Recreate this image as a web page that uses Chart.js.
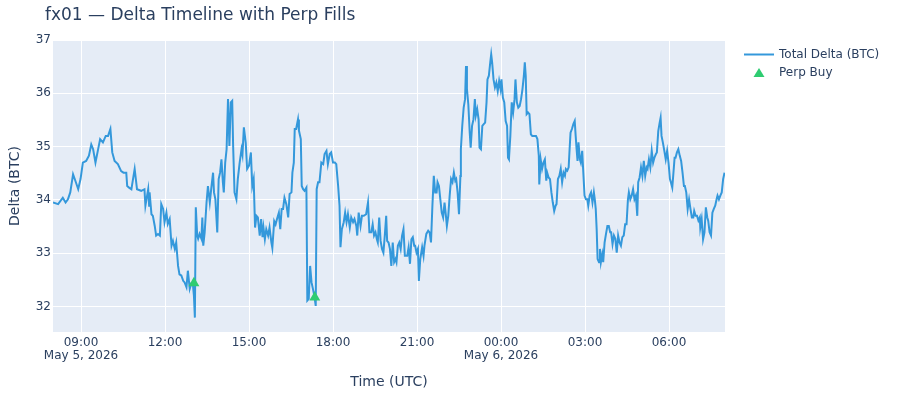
<!DOCTYPE html>
<html>
<head>
<meta charset="utf-8">
<script src="https://cdn.jsdelivr.net/npm/chart.js@4.4.1/dist/chart.umd.min.js"></script>
<style>
  html, body { margin: 0; padding: 0; background: #fff; }
  #wrap { width: 900px; height: 400px; position: relative; }
</style>
</head>
<body>
<div id="wrap"><canvas id="chart" width="900" height="400"></canvas></div>
<script>
// minutes since May 5, 2026 08:00 UTC
const timeMin = [
  0, 11, 21, 27, 32, 37, 43, 49, 54, 59, 64, 71, 77, 82, 86, 91, 96, 101, 107, 113,
  118, 123, 127, 132, 139, 146, 151, 157, 159, 163, 168, 175, 180, 189, 196, 198, 204, 206, 207, 211,
  214, 218, 221, 225, 229, 232, 236, 239, 243, 246, 250, 254, 257, 261, 264, 268, 271, 275, 279, 282,
  286, 289, 293, 296, 300, 302, 304, 306, 309, 311, 314, 318, 320, 322, 325, 329, 332, 336, 339, 343,
  345, 348, 352, 355, 358, 361, 364, 366, 369, 372, 375, 378, 381, 384, 386, 389, 393, 396, 400, 404,
  406, 409, 413, 416, 420, 424, 427, 430, 433, 436, 439, 443, 446, 449, 451, 454, 457, 461, 464, 468,
  470, 474, 477, 480, 484, 487, 490, 493, 496, 500, 504, 507, 511, 513, 516, 518, 521, 525, 527, 531,
  533, 536, 539, 543, 545, 548, 551, 554, 557, 560, 563, 565, 568, 571, 575, 579, 582, 586, 589, 593,
  596, 600, 604, 607, 611, 614, 616, 619, 623, 626, 629, 632, 636, 639, 643, 646, 650, 652, 655, 659,
  662, 666, 671, 675, 678, 682, 685, 688, 691, 694, 696, 699, 702, 705, 708, 711, 714, 716, 719, 722,
  725, 728, 731, 734, 736, 739, 742, 745, 748, 751, 754, 756, 759, 762, 765, 768, 771, 774, 776, 779,
  782, 784, 787, 791, 794, 796, 800, 804, 807, 810, 813, 816, 819, 822, 824, 827, 830, 833, 836, 839,
  842, 844, 847, 850, 853, 856, 859, 862, 864, 867, 870, 873, 874, 877, 880, 883, 885, 887, 890, 893,
  895, 898, 901, 904, 906, 909, 912, 914, 917, 920, 923, 926, 929, 931, 934, 937, 939, 941, 944, 947,
  950, 953, 956, 959, 961, 964, 967, 970, 973, 975, 977, 980, 983, 986, 989, 991, 994, 997, 1000, 1003,
  1006, 1009, 1011, 1013, 1015, 1018, 1021, 1024, 1027, 1031, 1035, 1038, 1041, 1042, 1045, 1048, 1051, 1054, 1057, 1059,
  1062, 1065, 1068, 1071, 1074, 1077, 1079, 1082, 1085, 1088, 1091, 1094, 1097, 1099, 1102, 1105, 1107, 1109, 1112, 1115,
  1118, 1120, 1122, 1124, 1126, 1129, 1131, 1134, 1136, 1139, 1142, 1145, 1147, 1150, 1153, 1156, 1159, 1161, 1163, 1165,
  1167, 1170, 1172, 1174, 1177, 1179, 1182, 1185, 1188, 1191, 1194, 1196, 1199, 1202, 1205, 1208, 1211, 1214, 1217, 1220,
  1223, 1226, 1229, 1232, 1234, 1237, 1240, 1243, 1246, 1249, 1252, 1254, 1257, 1260, 1263, 1266, 1269, 1272, 1274, 1277,
  1280, 1283, 1286, 1289, 1292, 1294, 1297, 1300, 1302, 1304, 1307, 1310, 1313, 1316, 1319, 1322, 1324, 1327, 1329, 1332,
  1334, 1337, 1340, 1343, 1346, 1349, 1352, 1354, 1357, 1360, 1363, 1366, 1369, 1372, 1374, 1377, 1380, 1383, 1386, 1387,
  1390, 1393, 1396, 1399, 1402, 1404, 1407, 1410, 1413, 1416, 1419, 1422, 1424, 1427, 1430, 1433, 1436, 1439
];

const totalDelta = [
  33.95, 33.92, 34.04, 33.95, 34.01, 34.14, 34.48, 34.33, 34.20, 34.39, 34.70, 34.73, 34.83, 35.04, 34.95, 34.70, 34.92, 35.14, 35.08, 35.20,
  35.20, 35.33, 34.89, 34.73, 34.67, 34.54, 34.51, 34.51, 34.26, 34.23, 34.20, 34.58, 34.20, 34.17, 34.20, 33.89, 34.20, 33.89, 34.14, 33.73,
  33.70, 33.51, 33.33, 33.36, 33.33, 33.92, 33.83, 33.58, 33.76, 33.55, 33.64, 33.14, 33.23, 33.08, 33.20, 32.76, 32.60, 32.58, 32.48, 32.45,
  32.36, 32.67, 32.33, 32.42, 32.39, 32.20, 31.79, 33.86, 33.33, 33.27, 33.36, 33.27, 33.67, 33.14, 33.39, 33.95, 34.26, 33.95, 34.20, 34.51,
  34.14, 34.01, 33.39, 34.39, 34.51, 34.76, 34.33, 34.14, 34.70, 34.95, 35.89, 35.01, 35.83, 35.86, 35.01, 34.14, 34.01, 34.39, 34.70, 34.95,
  34.85, 35.36, 35.07, 34.58, 34.64, 34.89, 34.26, 34.39, 33.48, 33.70, 33.67, 33.33, 33.64, 33.30, 33.48, 33.26, 33.45, 33.33, 33.48, 33.20,
  33.10, 33.60, 33.54, 33.64, 33.76, 33.45, 33.83, 33.83, 34.04, 33.92, 33.67, 34.11, 34.14, 34.51, 34.70, 35.33, 35.33, 35.51, 35.30, 35.14,
  34.26, 34.20, 34.17, 34.23, 32.11, 32.14, 32.76, 32.45, 32.33, 32.20, 32.01, 34.20, 34.33, 34.33, 34.70, 34.67, 34.86, 34.92, 34.67, 34.86,
  34.89, 34.70, 34.70, 34.67, 34.26, 33.89, 33.11, 33.45, 33.58, 33.76, 33.58, 33.73, 33.48, 33.67, 33.58, 33.64, 33.51, 33.33, 33.76, 33.51,
  33.70, 33.70, 33.73, 33.95, 33.39, 33.39, 33.54, 33.33, 33.39, 33.26, 33.20, 33.67, 33.23, 33.08, 33.01, 33.33, 33.70, 33.23, 33.20, 33.08,
  32.76, 33.20, 32.83, 32.89, 32.83, 33.14, 33.20, 33.08, 33.33, 33.45, 32.95, 32.95, 32.95, 33.11, 32.80, 33.26, 33.30, 33.14, 33.14, 33.01,
  33.08, 32.48, 32.89, 33.11, 32.95, 33.14, 33.36, 33.42, 33.39, 33.20, 33.89, 34.45, 34.14, 34.14, 34.33, 34.26, 34.01, 33.76, 33.67, 33.95,
  33.70, 33.51, 33.70, 34.08, 34.39, 34.33, 34.51, 34.36, 34.39, 34.14, 33.73, 34.45, 34.95, 35.39, 35.73, 35.89, 36.51, 36.08, 35.79, 35.26,
  34.98, 35.39, 35.51, 35.89, 35.58, 35.70, 35.51, 34.98, 34.95, 35.39, 35.42, 35.45, 35.83, 36.26, 36.33, 36.58, 36.73, 36.58, 36.26, 36.11,
  36.20, 36.04, 36.23, 36.08, 36.26, 35.92, 35.83, 35.48, 35.39, 34.79, 34.76, 35.20, 35.83, 35.64, 35.89, 36.26, 35.83, 35.73, 35.76, 35.89,
  36.08, 36.33, 36.58, 36.33, 35.61, 35.64, 35.61, 35.23, 35.20, 35.20, 35.20, 35.14, 34.83, 34.29, 34.76, 34.58, 34.70, 34.76, 34.36, 34.51,
  34.42, 34.39, 34.14, 33.95, 33.79, 33.89, 33.92, 34.39, 34.45, 34.58, 34.33, 34.51, 34.45, 34.58, 34.55, 34.61, 34.95, 35.26, 35.33, 35.42,
  35.48, 35.20, 34.95, 34.73, 35.08, 34.76, 34.70, 34.92, 34.58, 34.08, 34.01, 34.01, 33.89, 34.08, 34.14, 33.95, 34.14, 34.01, 33.83, 33.45,
  32.89, 32.83, 33.08, 32.83, 32.98, 32.83, 33.20, 33.36, 33.51, 33.51, 33.39, 33.39, 33.17, 33.33, 33.27, 33.01, 33.33, 33.20, 33.14, 33.30,
  33.33, 33.54, 33.54, 34.01, 34.14, 34.01, 34.08, 34.20, 34.01, 34.08, 33.70, 34.33, 34.42, 34.61, 34.45, 34.73, 34.45, 34.61, 34.58, 34.76,
  34.61, 34.92, 34.70, 34.80, 34.86, 34.89, 35.29, 35.45, 35.54, 35.20, 35.07, 34.92, 34.76, 34.92, 34.70, 34.39, 34.33, 34.23, 34.45, 34.79,
  34.79, 34.89, 34.95, 34.83, 34.73, 34.51, 34.26, 34.26, 34.14, 33.83, 34.01, 33.83, 33.67, 33.67, 33.79, 33.70, 33.70, 33.61, 33.67, 33.48,
  33.64, 33.26, 33.39, 33.86, 33.67, 33.61, 33.39, 33.33, 33.76, 33.83, 33.89, 34.01, 34.08, 34.01, 34.08, 34.14, 34.39, 34.51
];

const perpBuyMin = [302, 561];
const perpBuyDelta = [32.44, 32.17];

const xTicks = [60, 240, 420, 600, 780, 960, 1140, 1320];
const xTickLabels = ['09:00', '12:00', '15:00', '18:00', '21:00', '00:00', '03:00', '06:00'];
const xTickDates = {60: 'May 5, 2026', 960: 'May 6, 2026'};
const yTicks = [32, 33, 34, 35, 36, 37];

const FONT = '"DejaVu Sans", Verdana, sans-serif';
const INK = '#2a3f5f';
const LINE_COLOR = '#3498db';
const BUY_COLOR = '#2ecc71';

const plotBg = {
  id: 'plotBg',
  beforeDraw(chart) {
    const {ctx, chartArea: a} = chart;
    ctx.save();
    ctx.fillStyle = '#e5ecf6';
    ctx.fillRect(a.left, a.top, a.right - a.left, a.bottom - a.top);
    ctx.restore();
  },
  afterDraw(chart) {
    const ctx = chart.ctx;
    ctx.save();
    // title
    ctx.fillStyle = INK;
    ctx.font = '17px ' + FONT;
    ctx.textBaseline = 'alphabetic';
    ctx.fillText('fx01 — Delta Timeline with Perp Fills', 45, 20);
    // legend
    ctx.font = '12px ' + FONT;
    ctx.textBaseline = 'middle';
    ctx.strokeStyle = LINE_COLOR;
    ctx.lineWidth = 2;
    ctx.beginPath();
    ctx.moveTo(744, 54.5);
    ctx.lineTo(774, 54.5);
    ctx.stroke();
    ctx.fillText('Total Delta (BTC)', 779, 55);
    ctx.fillStyle = BUY_COLOR;
    ctx.beginPath();
    ctx.moveTo(759, 68);
    ctx.lineTo(764.5, 77);
    ctx.lineTo(753.5, 77);
    ctx.closePath();
    ctx.fill();
    ctx.fillStyle = INK;
    ctx.fillText('Perp Buy', 779, 73);
    ctx.restore();
  }
};

new Chart(document.getElementById('chart'), {
  type: 'line',
  data: {
    datasets: [
      {
        label: 'Total Delta (BTC)',
        data: timeMin.map((t, i) => ({x: t, y: totalDelta[i]})),
        borderColor: LINE_COLOR,
        borderWidth: 2,
        pointRadius: 0,
        tension: 0,
        fill: false,
        order: 1
      },
      {
        label: 'Perp Buy',
        data: perpBuyMin.map((t, i) => ({x: t, y: perpBuyDelta[i]})),
        showLine: false,
        pointStyle: 'triangle',
        pointRadius: 6.3,
        pointBackgroundColor: BUY_COLOR,
        pointBorderColor: BUY_COLOR,
        pointBorderWidth: 0,
        order: 0
      }
    ]
  },
  options: {
    responsive: false,
    animation: false,
    events: [],
    layout: {padding: {left: 0, top: 40, right: 175, bottom: 0}},
    plugins: {
      legend: {display: false},
      title: {display: false},
      tooltip: {enabled: false}
    },
    scales: {
      x: {
        type: 'linear',
        min: 0,
        max: 1440,
        afterBuildTicks: s => { s.ticks = xTicks.map(v => ({value: v})); },
        afterFit: s => { s.height = 68; },
        grid: {color: '#ffffff', lineWidth: 1, drawTicks: false},
        border: {display: false},
        ticks: {
          color: INK,
          font: {family: FONT, size: 12, lineHeight: 1.1},
          padding: 4,
          maxRotation: 0,
          autoSkip: false,
          callback: v => {
            const i = xTicks.indexOf(v);
            return xTickDates[v] ? [xTickLabels[i], xTickDates[v]] : xTickLabels[i];
          }
        },
        title: {
          display: true,
          text: 'Time (UTC)',
          color: INK,
          font: {family: FONT, size: 14},
          padding: {top: 0, bottom: 9}
        }
      },
      y: {
        min: 31.52,
        max: 37,
        afterBuildTicks: s => { s.ticks = yTicks.map(v => ({value: v})); },
        afterFit: s => { s.width = 53; },
        grid: {color: '#ffffff', lineWidth: 1, drawTicks: false},
        border: {display: false},
        ticks: {
          color: INK,
          font: {family: FONT, size: 12},
          padding: 2
        },
        title: {
          display: true,
          text: 'Delta (BTC)',
          color: INK,
          font: {family: FONT, size: 14},
          padding: {top: 7, bottom: 0}
        }
      }
    }
  },
  plugins: [plotBg]
});
</script>
</body>
</html>
